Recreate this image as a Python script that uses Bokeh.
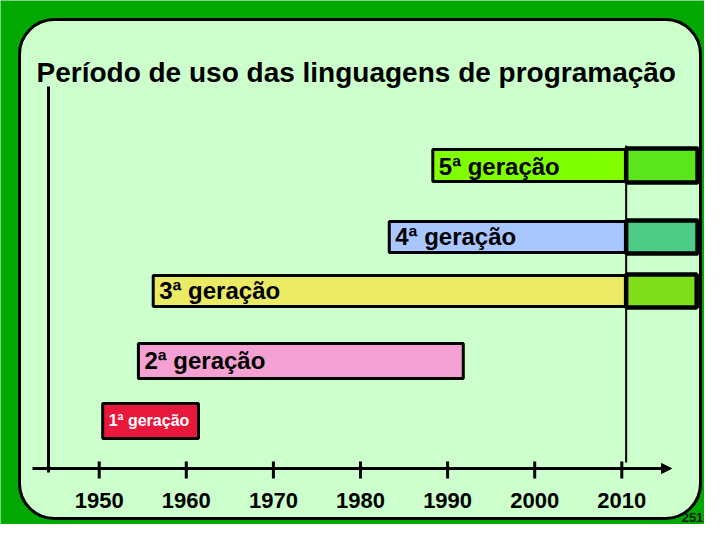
from bokeh.plotting import figure
from bokeh.models import Range1d, Arrow, NormalHead
from bokeh.core.properties import value
from bokeh.embed import file_html
from bokeh.resources import INLINE

# ---- data ----
generations = ["1ª geração", "2ª geração", "3ª geração", "4ª geração", "5ª geração"]
start_year = [1950.4, 1954.5, 1956.2, 1983.3, 1988.3]
end_year = [1961.4, 1991.8, 2010.5, 2010.5, 2010.5]
future_end = [None, None, 2018.6, 2018.7, 2018.7]
tick_years = [1950, 1960, 1970, 1980, 1990, 2000, 2010]
now_year = 2010.5
title_text = "Período de uso das linguagens de programação"
page_number = "251"

# ---- style / layout ----
bar_colors = ["#e8173c", "#f4a0d2", "#eaea64", "#a8c6ff", "#80ff00"]
future_colors = [None, None, "#80dd1a", "#4dcc88", "#5ae61a"]
label_colors = ["white", "black", "black", "black", "black"]
label_sizes = [16, 24, 24, 24, 24]
row_top = [403, 343, 275, 221, 149]
row_bottom = [438, 378, 306, 252, 181]
label_base = [425, 367, 297, 243, 173]

FONT = value("Liberation Sans")
W, H = 704, 524
PX_PER_YEAR = 8.71
BASE_SHIFT = 0.29  # svg baseline compensation (fraction of font size)


def yr(px):
    return 1980 + (px - 360) / PX_PER_YEAR


def base(y, size):
    return y - BASE_SHIFT * size


p = figure(width=W, height=H, x_range=Range1d(yr(0), yr(W)), y_range=Range1d(H, 0),
           output_backend="svg", toolbar_location=None, min_border=0)
p.axis.visible = False
p.grid.visible = False
p.outline_line_color = None
p.background_fill_color = "#00a800"
p.border_fill_color = "#00a800"

# slide panel
p.quad(left=yr(19), right=yr(700), top=19, bottom=518, border_radius=35,
       fill_color="#ccffcc", line_color="black", line_width=3)

# title
p.text(x=[yr(36)], y=[base(80, 28)], text=[title_text], text_font=FONT, text_font_style="bold",
       text_font_size="28px", text_color="black", text_baseline="alphabetic", text_align="left")

# left vertical line
p.segment(x0=[yr(48)], y0=[86], x1=[yr(48)], y1=[472], line_color="black", line_width=3)

# time axis with arrow
p.add_layout(Arrow(end=NormalHead(size=10, fill_color="black", line_color="black"),
                   x_start=yr(32), y_start=468, x_end=yr(671), y_end=468,
                   line_color="black", line_width=3))
p.segment(x0=tick_years, y0=[461] * len(tick_years), x1=tick_years, y1=[478] * len(tick_years),
          line_color="black", line_width=3)
p.text(x=tick_years, y=[base(506, 22)] * len(tick_years), text=[str(t) for t in tick_years],
       text_font=FONT, text_font_style="bold", text_font_size="22px", text_color="black",
       text_align="center", text_baseline="alphabetic")

# now line
p.segment(x0=[now_year], y0=[145], x1=[now_year], y1=[462], line_color="black", line_width=2)

# bars
p.quad(left=start_year, right=end_year, top=row_top, bottom=row_bottom,
       fill_color=bar_colors, line_color="black", line_width=3)

# future boxes
fl, fr, ft, fb, fc = [], [], [], [], []
for i in range(len(generations)):
    if future_end[i] is not None:
        fl.append(end_year[i]); fr.append(future_end[i])
        ft.append(row_top[i] - 1); fb.append(row_bottom[i] + 1); fc.append(future_colors[i])
p.quad(left=fl, right=fr, top=ft, bottom=fb, fill_color=fc, line_color="black", line_width=4.5)

# labels
for i, g in enumerate(generations):
    p.text(x=[start_year[i]], y=[base(label_base[i], label_sizes[i])], text=[g], x_offset=6,
           text_font=FONT, text_font_style="bold", text_font_size=f"{label_sizes[i]}px",
           text_color=label_colors[i], text_align="left", text_baseline="alphabetic")

# page number
p.text(x=[yr(692)], y=[base(521, 13)], text=[page_number], text_font=FONT, text_font_style="bold",
       text_font_size="13px", text_color="#1a1a1a", text_align="center", text_baseline="alphabetic")

open("out.html", "w").write(file_html(p, INLINE))
